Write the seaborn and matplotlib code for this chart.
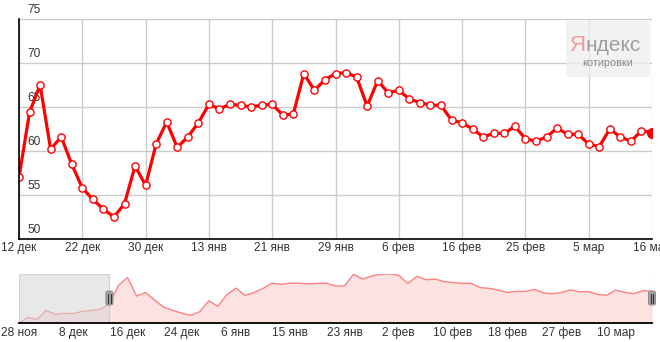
import matplotlib
matplotlib.use("Agg")
import matplotlib.pyplot as plt
import matplotlib.transforms as mtransforms
from matplotlib.patches import FancyBboxPatch
from matplotlib.lines import Line2D
import numpy as np
import seaborn as sns

# ---------------- data ----------------
main_values = [57.0, 64.4, 67.5, 60.2, 61.6, 58.5, 55.8, 54.5, 53.4, 52.5,
               54.0, 58.3, 56.1, 60.8, 63.3, 60.4, 61.6, 63.2, 65.3, 64.8,
               65.3, 65.2, 65.0, 65.2, 65.3, 64.1, 64.2, 68.8, 66.9, 68.1,
               68.8, 68.9, 68.4, 65.1, 68.0, 66.6, 66.9, 65.9, 65.5, 65.2,
               65.2, 63.5, 63.2, 62.5, 61.6, 62.0, 62.0, 62.8, 61.4, 61.1,
               61.6, 62.6, 61.9, 61.9, 60.8, 60.5, 62.5, 61.6, 61.1, 62.3,
               62.1]
main_tick_labels = ['12 дек', '22 дек', '30 дек', '13 янв', '21 янв', '29 янв',
                    '6 фев', '16 фев', '25 фев', '5 мар', '16 мар']
y_ticks = [50, 55, 60, 65, 70, 75]

nav_early_values = [49.5, 51.7, 50.9, 54.5, 53.0, 53.3, 53.2, 54.1, 54.5, 54.9]
nav_tick_labels = ['28 ноя', '8 дек', '16 дек', '24 дек', '6 янв', '15 янв',
                   '23 янв', '2 фев', '10 фев', '18 фев', '27 фев', '10 мар']

nav_values = nav_early_values + main_values
main_x = np.arange(len(main_values))
nav_x = np.arange(len(nav_values))
tick_step = 6

# ---------------- figure ----------------
sns.set_style("white")
plt.rcParams['font.family'] = ['Liberation Sans', 'DejaVu Sans']
W, H = 660, 342
fig = plt.figure(figsize=(W / 100, H / 100), dpi=100)
fig.patch.set_facecolor('white')


def px_axes(l, t, r, b):
    return fig.add_axes([l / W, 1 - b / H, (r - l) / W, (b - t) / H])


txt_color = '#333333'
fs = 8.6

# ---- main chart ----
ax = px_axes(19, 19, 652, 239)
ax.set_facecolor('none')
sns.lineplot(x=main_x, y=main_values, ax=ax, color='#ff0000', lw=2.3,
             marker='o', markersize=5.2, markerfacecolor='white',
             markeredgecolor='#ff0000', markeredgewidth=1.0, zorder=3)
ax.plot(main_x[-1:], main_values[-1:], 'o', color='#ff0000', markersize=7, zorder=4)
ax.set_xlim(0, len(main_values) - 1)
ax.set_ylim(y_ticks[0], y_ticks[-1])
ax.set_xticks(main_x[::tick_step])
ax.set_xticklabels(main_tick_labels, fontsize=fs, color=txt_color)
ax.set_yticks(y_ticks)
ax.set_yticklabels([])
ax.grid(True, color='#cccccc', lw=1)
ax.set_axisbelow(True)
ax.tick_params(length=0, pad=2)
for s in ['top', 'right']:
    ax.spines[s].set_visible(False)
for s in ['left', 'bottom']:
    ax.spines[s].set_color('black')
    ax.spines[s].set_linewidth(1.2)
ax.spines['left'].set_zorder(5)
ax.spines['bottom'].set_zorder(5)

trans = mtransforms.blended_transform_factory(ax.transAxes, ax.transData)
trans = mtransforms.offset_copy(trans, fig=fig, x=0, y=2.4, units='points')
for v in y_ticks:
    ax.text(8 / 633, v, str(v), transform=trans, ha='left', va='bottom',
            fontsize=fs, color=txt_color, clip_on=False, zorder=2)

# watermark
box = FancyBboxPatch((566 / W, 1 - 77 / H), 84 / W, 56 / H,
                     boxstyle='round,pad=0,rounding_size=0.008',
                     transform=fig.transFigure, fc='#eeeeee', ec='none',
                     alpha=0.75, zorder=6)
fig.add_artist(box)
wm_font = ['Liberation Sans', 'DejaVu Sans']
fig.text(586 / W, 1 - 51 / H, 'Я', ha='right', va='baseline', fontsize=16,
         color='#f59a9a', family=wm_font, zorder=7)
fig.text(585.5 / W, 1 - 51 / H, 'ндекс', ha='left', va='baseline', fontsize=15,
         color='#9e9e9e', family=wm_font, zorder=7)
fig.text(608 / W, 1 - 65.5 / H, 'котировки', ha='center', va='baseline', fontsize=7.8,
         color='#8c8c8c', family=wm_font, zorder=7)

# ---- navigator ----
ax2 = px_axes(19, 274, 652, 323)
ax2.set_facecolor('none')
nav_min, nav_max = min(nav_values), max(nav_values)
ax2.fill_between(nav_x, nav_values, nav_min - 5, color='#fde2e2', lw=0, zorder=1)
sns.lineplot(x=nav_x, y=nav_values, ax=ax2, color='#ff8080', lw=1.0, zorder=2)
ax2.set_xlim(0, len(nav_values) - 1)
ax2.set_ylim(nav_min, nav_max)
ax2.set_xticks(nav_x[::tick_step])
ax2.set_xticklabels(nav_tick_labels, fontsize=fs, color=txt_color)
ax2.set_yticks([])
ax2.tick_params(length=0, pad=3)
for s in ['top', 'right', 'left']:
    ax2.spines[s].set_visible(False)
ax2.spines['bottom'].set_color('black')
ax2.spines['bottom'].set_linewidth(1.3)
ax2.spines['bottom'].set_zorder(5)

sel_start = len(nav_early_values)
ax2.axvspan(0, sel_start, facecolor='#d6d6d6', alpha=0.55, edgecolor='#b8b8b8',
            lw=0.8, zorder=3)
ax2.axvline(len(nav_values) - 1, color='#bbbbbb', lw=0.8, zorder=3)

# selection handles (placed from the navigator's own transforms)
ident = mtransforms.IdentityTransform()
for hx in [sel_start, len(nav_values) - 1]:
    cx, _ = ax2.transData.transform((hx, nav_min))
    _, cy = ax2.transAxes.transform((0, 0.51))
    hw, hh = 7, 14
    fig.add_artist(FancyBboxPatch((cx - hw / 2, cy - hh / 2), hw, hh,
                                  boxstyle='round,pad=0,rounding_size=2',
                                  transform=ident, fc='#a3a3a3', ec='#8c8c8c',
                                  lw=0.7, zorder=8))
    for dx in (-1.3, 1.3):
        fig.add_artist(Line2D([cx + dx, cx + dx], [cy - 4.5, cy + 4.5],
                              transform=ident, color='#333333', lw=0.8, zorder=9))

fig.savefig('out.png', dpi=100)
